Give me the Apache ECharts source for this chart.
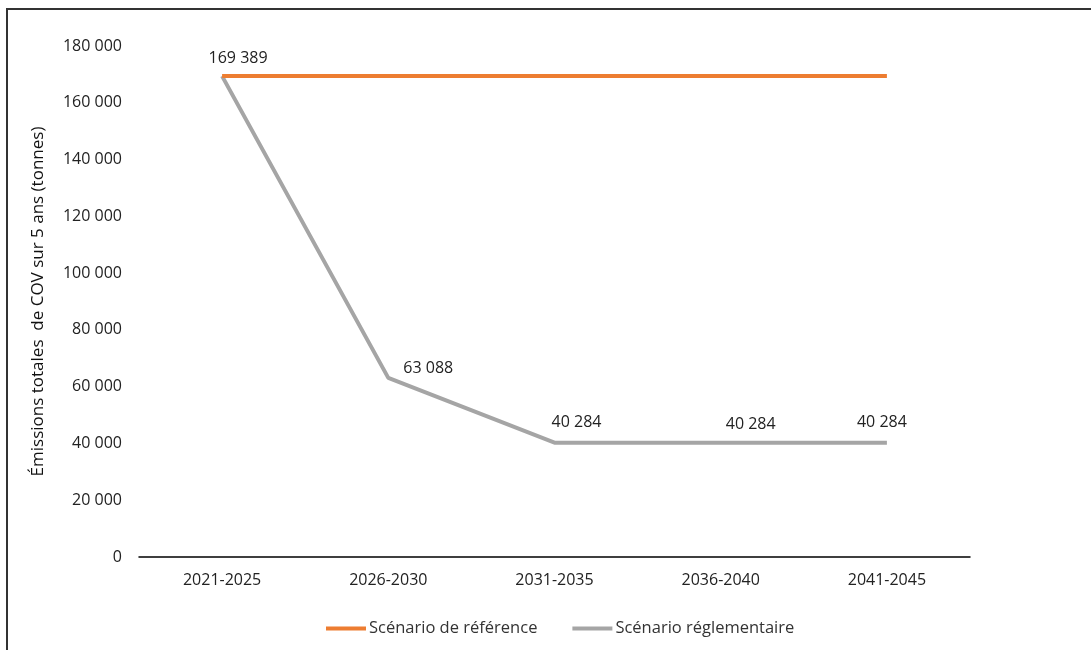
<!DOCTYPE html>
<html><head><meta charset="utf-8">
<script src="https://cdn.jsdelivr.net/npm/echarts@6/dist/echarts.min.js"></script>
<style>
html,body{margin:0;padding:0;background:#fff;}
#frame{position:absolute;left:6px;top:8px;width:1200px;height:800px;border-top:2px solid #333;border-left:2px solid #333;}
#c{position:absolute;left:0;top:0;width:1091px;height:650px;}
</style></head>
<body><div id="frame"></div><div id="c"></div>
<script>
var categories = ['2021-2025','2026-2030','2031-2035','2036-2040','2041-2045'];
var referenceSeries = [169389,169389,169389,169389,169389];
var regulatorySeries = [169389,63088,40284,40284,40284];
var seriesNames = ['Scénario de référence','Scénario réglementaire'];
var yAxisTitle = 'Émissions totales  de COV sur 5 ans (tonnes)';

var FONT = 'Open Sans';
function fmt(v){ return String(v).replace(/\B(?=(\d{3})+(?!\d))/g, ' '); }
var labelOffsets = [[16,-5],[40,4],[22,-7],[30,-5],[-5,-7]];
var regData = regulatorySeries.map(function(v,i){
  return {value:v,label:{show:true,position:'top',offset:labelOffsets[i]}};
});
var chart = echarts.init(document.getElementById('c'), null, {renderer:'canvas'});
chart.setOption({
  animation:false,
  textStyle:{fontFamily:FONT},
  grid:{left:139,right:121,top:46,bottom:93},
  legend:{bottom:8,left:321,itemWidth:40,itemHeight:4,itemGap:35,icon:'rect',
    textStyle:{fontFamily:FONT,fontSize:16.5,color:'#333',padding:[0,0,0,-2]},
    data:seriesNames},
  xAxis:{type:'category',data:categories,boundaryGap:true,
    axisLine:{lineStyle:{color:'#000',width:1.5}},axisTick:{show:false},
    axisLabel:{fontFamily:FONT,fontSize:16,color:'#222',margin:15}},
  yAxis:{type:'value',min:0,max:180000,interval:20000,
    name:yAxisTitle,nameLocation:'middle',nameGap:92,nameRotate:90,
    nameTextStyle:{fontFamily:FONT,fontSize:17,color:'#111'},
    axisLine:{show:false},axisTick:{show:false},splitLine:{show:false},
    axisLabel:{fontFamily:FONT,fontSize:16,color:'#222',margin:17,formatter:fmt}},
  series:[
    {name:seriesNames[0],type:'line',data:referenceSeries,showSymbol:false,symbol:'none',
      lineStyle:{color:'#ED7D31',width:4},itemStyle:{color:'#ED7D31'},z:3},
    {name:seriesNames[1],type:'line',data:regData,showSymbol:true,symbol:'circle',symbolSize:0.1,
      lineStyle:{color:'#A5A5A5',width:4},itemStyle:{color:'#A5A5A5'},
      label:{show:true,fontFamily:FONT,fontSize:16,color:'#222',formatter:function(p){return fmt(p.value);}},z:2}
  ]
});
</script></body></html>
